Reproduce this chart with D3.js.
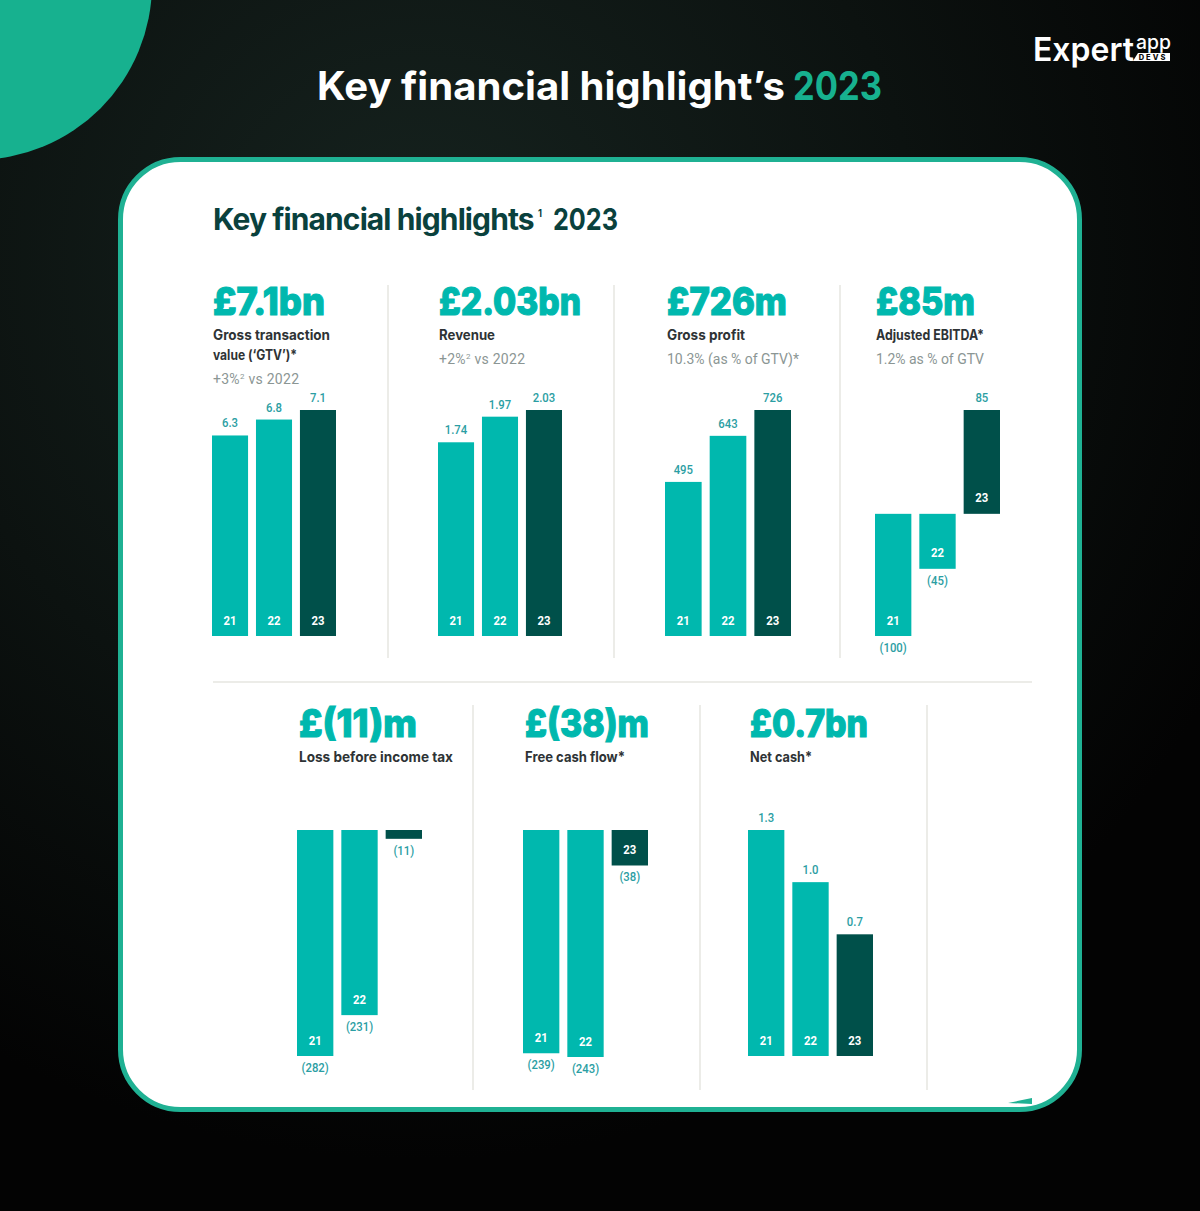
<!DOCTYPE html>
<html>
<head>
<meta charset="utf-8">
<script src="https://d3js.org/d3.v7.min.js"></script>
<style>
  html, body { margin: 0; padding: 0; background: #050505; }
  svg { display: block; }
</style>
</head>
<body>
<div id="chart"></div>
<script>
// data
const years = ["21", "22", "23"];

const gtvValues = [6.3, 6.8, 7.1];
const gtvLabels = ["6.3", "6.8", "7.1"];
const revenueValues = [1.74, 1.97, 2.03];
const revenueLabels = ["1.74", "1.97", "2.03"];
const grossProfitValues = [495, 643, 726];
const grossProfitLabels = ["495", "643", "726"];
const ebitdaValues = [-100, -45, 85];
const ebitdaLabels = ["(100)", "(45)", "85"];
const lossValues = [-282, -231, -11];
const lossLabels = ["(282)", "(231)", "(11)"];
const fcfValues = [-239, -243, -38];
const fcfLabels = ["(239)", "(243)", "(38)"];
const netCashValues = [1.3, 1.0, 0.7];
const netCashLabels = ["1.3", "1.0", "0.7"];

const width = 1200, height = 1211;
const teal = "#00b8ae", dark = "#00504a", labelCol = "#2b9ea3";
const frameCol = "#1fb193", ruleCol = "#e6e6e1";
const titleFont = "Inter, 'Open Sans', sans-serif";
const numFont = "Roboto, 'Liberation Sans', sans-serif";

const svg = d3.select("#chart").append("svg")
  .attr("width", width)
  .attr("height", height)
  .attr("viewBox", [0, 0, width, height]);

const defs = svg.append("defs");
const bg = defs.append("radialGradient").attr("id", "bg")
  .attr("gradientUnits", "userSpaceOnUse")
  .attr("cx", 420).attr("cy", 260).attr("r", 900);
bg.append("stop").attr("offset", "0").attr("stop-color", "#16231f");
bg.append("stop").attr("offset", "0.55").attr("stop-color", "#0c1210");
bg.append("stop").attr("offset", "1").attr("stop-color", "#030303");

svg.append("rect").attr("width", width).attr("height", height).attr("fill", "url(#bg)");
svg.append("circle").attr("cx", -24).attr("cy", -16).attr("r", 176).attr("fill", "#17b18f");

// squeeze a label to look like the condensed face of the original
function condense(sel, k) {
  sel.each(function () {
    const len = this.getComputedTextLength();
    d3.select(this).attr("textLength", len * k).attr("lengthAdjust", "spacingAndGlyphs");
  });
}

// fixed width text piece
function piece(x, y, size, weight, fill, w, t) {
  return svg.append("text").attr("x", x).attr("y", y)
    .attr("font-family", titleFont).attr("font-size", size).attr("font-weight", weight)
    .attr("fill", fill).attr("textLength", w).attr("lengthAdjust", "spacingAndGlyphs")
    .text(t);
}

// heading
piece(317, 100, 39, 700, "#fff", 468, "Key financial highlight\u2019s");
piece(793, 100, 39, 700, "#17b18f", 89, "2023");

// logo
piece(1033, 61, 33, 600, "#fff", 101, "Expert");
piece(1136, 49, 19, 500, "#fff", 35, "app");
svg.append("path").attr("d", "M1138,53H1170V61H1133Z").attr("fill", "#fff");
svg.append("text").attr("x", 1153).attr("y", 60)
  .attr("font-family", titleFont).attr("font-size", 7.5).attr("font-weight", 800)
  .attr("text-anchor", "middle").attr("letter-spacing", 2).attr("fill", "#0a0a0a").text("DEVS");

// card
svg.append("rect")
  .attr("x", 120.5).attr("y", 159.5).attr("width", 959).attr("height", 950).attr("rx", 60)
  .attr("fill", "#fff").attr("stroke", frameCol).attr("stroke-width", 5);

svg.append("text").attr("x", 213).attr("y", 230)
  .attr("font-family", titleFont).attr("font-size", 30).attr("font-weight", 700)
  .attr("letter-spacing", -0.9).attr("fill", "#0a413d")
  .text("Key financial highlights");
piece(538, 217, 11, 700, "#0a413d", 4, "1");
piece(553, 230, 30, 700, "#0a413d", 65, "2023");

// rules between the panels
const rules = svg.append("g").attr("stroke", ruleCol).attr("stroke-width", 1.5);
[388, 614, 840].forEach(x => rules.append("line").attr("x1", x).attr("x2", x).attr("y1", 285).attr("y2", 658));
[473, 700, 927].forEach(x => rules.append("line").attr("x1", x).attr("x2", x).attr("y1", 705).attr("y2", 1090));
rules.append("line").attr("x1", 213).attr("x2", 1032).attr("y1", 682).attr("y2", 682);

function panel(p) {
  const g = svg.append("g");

  g.append("text").attr("x", p.x).attr("y", p.headY)
    .attr("font-family", titleFont).attr("font-weight", 800).attr("font-size", 38)
    .attr("fill", teal).attr("stroke", teal).attr("stroke-width", 1.2)
    .attr("textLength", p.headW).attr("lengthAdjust", "spacingAndGlyphs")
    .text(p.head);

  p.name.forEach((line, i) => {
    g.append("text").attr("x", p.x).attr("y", p.headY + 25 + i * 20)
      .attr("font-family", titleFont).attr("font-weight", 700).attr("font-size", 14)
      .attr("fill", "#2e3335").attr("textLength", line.w).attr("lengthAdjust", "spacingAndGlyphs")
      .text(line.t);
  });

  if (p.note) {
    const note = g.append("text").attr("x", p.x).attr("y", p.noteY)
      .attr("font-family", numFont).attr("font-size", 14)
      .attr("textLength", p.noteW)
      .attr("fill", "#8b9694");
    p.note.forEach(s => {
      if (s.sup) note.append("tspan").attr("font-size", 8).attr("dy", -5).text(s.t);
      else note.append("tspan").attr("dy", s.after ? 5 : 0).text(s.t);
    });
  }

  const x = d3.scaleBand().domain(years).range(p.xRange).paddingInner(0.18).paddingOuter(0);
  const y = d3.scaleLinear().domain(p.domain).range(p.yRange);
  const zero = y(0);

  const rows = years.map((yr, i) => ({ yr, v: p.values[i], label: p.labels[i], i }));

  g.selectAll("rect.bar").data(rows).join("rect")
    .attr("class", "bar")
    .attr("x", d => x(d.yr))
    .attr("width", x.bandwidth())
    .attr("y", d => Math.min(y(d.v), zero))
    .attr("height", d => Math.abs(y(d.v) - zero))
    .attr("fill", d => d.i === 2 ? dark : teal);

  g.selectAll("text.val").data(rows).join("text")
    .attr("class", "val")
    .attr("x", d => x(d.yr) + x.bandwidth() / 2)
    .attr("y", d => d.v >= 0 ? y(d.v) - 8 : y(d.v) + 16)
    .attr("text-anchor", "middle")
    .attr("font-family", numFont).attr("font-weight", 500).attr("font-size", 13.5)
    .attr("fill", labelCol)
    .text(d => d.label)
    .call(condense, 0.84);

  // year sits inside the foot of the bar, unless the bar is too short
  g.selectAll("text.yr").data(rows.filter(d => Math.abs(y(d.v) - zero) > 20)).join("text")
    .attr("class", "yr")
    .attr("x", d => x(d.yr) + x.bandwidth() / 2)
    .attr("y", d => Math.max(y(d.v), zero) - 11.5)
    .attr("text-anchor", "middle")
    .attr("font-family", numFont).attr("font-weight", 700).attr("font-size", 13.5)
    .attr("fill", "#fff")
    .text(d => d.yr)
    .call(condense, 0.84);
}

panel({ head: "\u00a37.1bn", headW: 112, x: 213, headY: 315,
  name: [{ t: "Gross transaction", w: 117 }, { t: "value (\u2018GTV\u2019)*", w: 84 }],
  note: [{ t: "+3%" }, { t: "2", sup: true }, { t: " vs 2022", after: true }], noteY: 384, noteW: 86,
  values: gtvValues, labels: gtvLabels, domain: [0, 7.1], yRange: [636, 410], xRange: [212, 336] });

panel({ head: "\u00a32.03bn", headW: 142, x: 439, headY: 315,
  name: [{ t: "Revenue", w: 56 }],
  note: [{ t: "+2%" }, { t: "2", sup: true }, { t: " vs 2022", after: true }], noteY: 364, noteW: 86,
  values: revenueValues, labels: revenueLabels, domain: [0, 2.03], yRange: [636, 410], xRange: [438, 562] });

panel({ head: "\u00a3726m", headW: 120, x: 667, headY: 315,
  name: [{ t: "Gross profit", w: 78 }],
  note: [{ t: "10.3% (as % of GTV)*" }], noteY: 364, noteW: 132,
  values: grossProfitValues, labels: grossProfitLabels, domain: [0, 726], yRange: [636, 410], xRange: [665, 791] });

panel({ head: "\u00a385m", headW: 99, x: 876, headY: 315,
  name: [{ t: "Adjusted EBITDA*", w: 108 }],
  note: [{ t: "1.2% as % of GTV" }], noteY: 364, noteW: 108,
  values: ebitdaValues, labels: ebitdaLabels, domain: [-100, 85], yRange: [636, 410], xRange: [875, 1000] });

panel({ head: "\u00a3(11)m", headW: 118, x: 299, headY: 737,
  name: [{ t: "Loss before income tax", w: 154 }],
  values: lossValues, labels: lossLabels, domain: [-282, 0], yRange: [1056, 830], xRange: [297, 422] });

panel({ head: "\u00a3(38)m", headW: 124, x: 525, headY: 737,
  name: [{ t: "Free cash flow*", w: 100 }],
  values: fcfValues, labels: fcfLabels, domain: [-243, 0], yRange: [1057, 830], xRange: [523, 648] });

panel({ head: "\u00a30.7bn", headW: 118, x: 750, headY: 737,
  name: [{ t: "Net cash*", w: 62 }],
  values: netCashValues, labels: netCashLabels, domain: [0, 1.3], yRange: [1056, 830], xRange: [748, 873] });

// sliver of the next page's corner showing at the bottom of the card
svg.append("path").attr("d", "M1008,1103L1032,1098L1032,1104Z").attr("fill", "#1fb193");
</script>
</body>
</html>
